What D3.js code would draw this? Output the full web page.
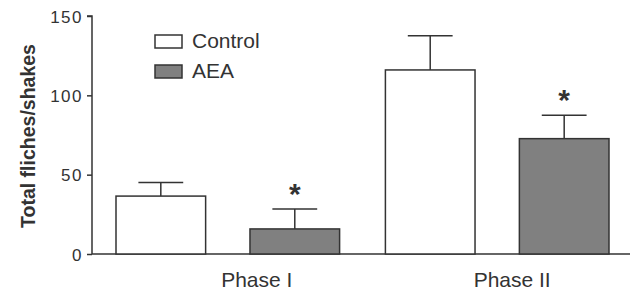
<!DOCTYPE html>
<html>
<head>
<meta charset="utf-8">
<script src="https://cdn.jsdelivr.net/npm/d3@7"></script>
<style>
  body { margin: 0; background: #fff; }
  text { font-family: "Liberation Sans", Arial, sans-serif; fill: #333; }
</style>
</head>
<body>
<div id="chart-area"></div>
<script>
const phases = ["Phase I", "Phase II"]
const groups = ["Control", "AEA"]
const controlMeans = [36.5, 116]
const controlErr = [8.5, 21.5]
const aeaMeans = [15.8, 72.7]
const aeaErr = [12.5, 14.7]
const yTicks = [0, 50, 100, 150]

const MARGIN = { LEFT: 92, RIGHT: 0, TOP: 16, BOTTOM: 38 }
const WIDTH = 630 - MARGIN.LEFT - MARGIN.RIGHT
const HEIGHT = 292 - MARGIN.TOP - MARGIN.BOTTOM

const svg = d3.select("#chart-area").append("svg")
    .attr("width", 630)
    .attr("height", 292)

const g = svg.append("g")
    .attr("transform", `translate(${MARGIN.LEFT}, ${MARGIN.TOP})`)

// rows built from the arrays, AEA bars get the *
const rows = []
phases.forEach((p, i) => {
    rows.push({ phase: p, group: "Control", mean: controlMeans[i], err: controlErr[i], star: false })
    rows.push({ phase: p, group: "AEA", mean: aeaMeans[i], err: aeaErr[i], star: true })
})

const y = d3.scaleLinear().domain([0, 150]).range([HEIGHT, 0])

const x0 = d3.scaleBand()
    .domain(phases)
    .range([24, 517])
    .paddingInner(0.17)
    .paddingOuter(0)

const x1 = d3.scaleBand()
    .domain(groups)
    .range([0, x0.bandwidth()])
    .paddingInner(0.331)
    .paddingOuter(0)

const color = d3.scaleOrdinal().domain(groups).range(["#ffffff", "#808080"])

// y axis
const yAxisCall = d3.axisLeft(y).tickValues(yTicks).tickSize(5).tickPadding(4)
const yAxis = g.append("g").attr("class", "y axis").call(yAxisCall)
yAxis.select(".domain").attr("stroke", "#333").attr("stroke-width", 1.5)
    .attr("d", `M-5,0H0V${HEIGHT}`)
yAxis.selectAll(".tick line").attr("stroke", "#333").attr("stroke-width", 1.5)
yAxis.selectAll(".tick text")
    .attr("font-size", "17px")
    .attr("fill", "#333")
    .attr("letter-spacing", "1.5px")
    .attr("dy", "0.36em")
    .style("font-family", "Liberation Sans, Arial, sans-serif")

// baseline
g.append("line")
    .attr("x1", 0).attr("x2", WIDTH)
    .attr("y1", y(0)).attr("y2", y(0))
    .attr("stroke", "#333").attr("stroke-width", 1.5)

// y label
g.append("text")
    .attr("x", -120)
    .attr("y", -57)
    .attr("font-size", "19.5px")
    .attr("font-weight", "bold")
    .attr("text-anchor", "middle")
    .attr("transform", "rotate(-90)")
    .text("Total fliches/shakes")

const bx = d => x0(d.phase) + x1(d.group)
const bw = x1.bandwidth()

// error bars
const eb = g.selectAll(".err").data(rows).enter().append("g").attr("class", "err")
eb.append("line")
    .attr("x1", d => bx(d) + bw / 2).attr("x2", d => bx(d) + bw / 2)
    .attr("y1", d => y(d.mean)).attr("y2", d => y(d.mean + d.err))
    .attr("stroke", "#333").attr("stroke-width", 1.5)
eb.append("line")
    .attr("x1", d => bx(d) + bw / 4).attr("x2", d => bx(d) + bw * 3 / 4)
    .attr("y1", d => y(d.mean + d.err)).attr("y2", d => y(d.mean + d.err))
    .attr("stroke", "#333").attr("stroke-width", 1.5)

// bars
g.selectAll("rect.bar").data(rows).enter().append("rect")
    .attr("class", "bar")
    .attr("x", d => bx(d))
    .attr("y", d => y(d.mean))
    .attr("width", bw)
    .attr("height", d => HEIGHT - y(d.mean))
    .attr("fill", d => color(d.group))
    .attr("stroke", "#333")
    .attr("stroke-width", 1.5)

// stars
g.selectAll("text.star").data(rows.filter(d => d.star)).enter().append("text")
    .attr("class", "star")
    .attr("x", d => bx(d) + bw / 2)
    .attr("y", d => y(d.mean + d.err) - 5)
    .attr("text-anchor", "middle")
    .attr("font-size", "30px")
    .attr("font-weight", "bold")
    .text("*")

// phase labels
const labelShift = [29, 15]
g.selectAll("text.phase").data(phases).enter().append("text")
    .attr("class", "phase")
    .attr("x", (d, i) => x0(d) + x0.bandwidth() / 2 + labelShift[i])
    .attr("y", HEIGHT + 33)
    .attr("text-anchor", "middle")
    .attr("font-size", "21px")
    .text(d => d)

// legend
const legend = g.append("g").attr("transform", "translate(63, 19)")
groups.forEach((grp, i) => {
    const row = legend.append("g").attr("transform", `translate(0, ${i * 30})`)
    row.append("rect")
        .attr("width", 27).attr("height", 13)
        .attr("fill", color(grp))
        .attr("stroke", "#333").attr("stroke-width", 1.5)
    row.append("text")
        .attr("x", 37).attr("y", 13)
        .attr("font-size", "21px")
        .text(grp)
})
</script>
</body>
</html>
